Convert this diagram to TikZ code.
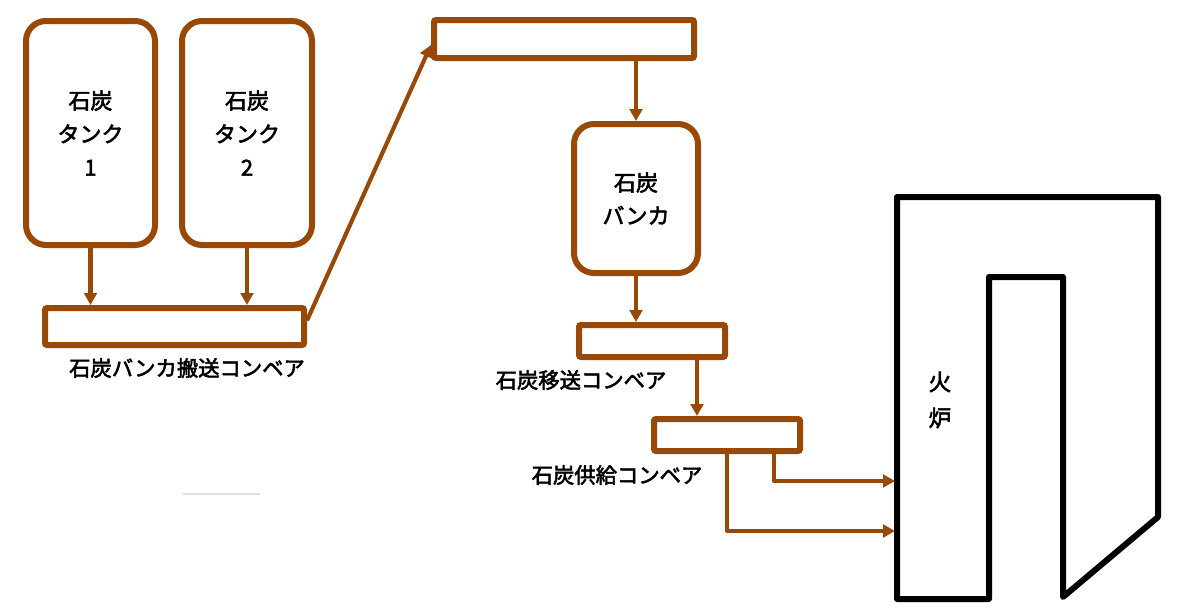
\documentclass[tikz,border=0pt]{standalone}
\usepackage{fontspec}
\setmainfont[FakeBold=2.5]{Noto Sans CJK JP}
\usetikzlibrary{arrows.meta,calc}
\definecolor{coal}{RGB}{152,72,7}
\tikzset{
  tank/.style={draw=coal, line width=4.5pt, rounded corners=15pt, fill=white, align=center, font=\fontsize{16.5}{25}\selectfont},
  conv/.style={draw=coal, line width=4.5pt, rounded corners=1.5pt, fill=white},
  flow/.style={draw=coal, line width=3.1pt, -{Triangle[length=9pt,width=9.5pt]}},
  lbl/.style={font=\fontsize{16}{20}\selectfont},
  furnace/.style={draw=black, line width=4.5pt, line join=round}
}
\begin{document}
\begin{tikzpicture}[x=0.75pt,y=-0.75pt]
\useasboundingbox (0,0) rectangle (1200,611);
% tanks
\node[tank, minimum width=96.75pt, minimum height=168pt] (t1) at (90.5,133) {石炭\\タンク\\1};
\node[tank, minimum width=97.5pt, minimum height=168pt] (t2) at (247,133) {石炭\\タンク\\2};
% conveyors
\node[conv, minimum width=194.25pt, minimum height=27.75pt] (c1) at (174.5,326.5) {};
\node[lbl] (l1) at (187,368) {石炭バンカ搬送コンベア};
\node[conv, minimum width=195pt, minimum height=28.5pt] (c0) at (564,39) {};
\node[tank, minimum width=93pt, minimum height=111.75pt, font=\fontsize{16.5}{24.75}\selectfont] (b) at (636,198.5) {石炭\\バンカ};
\node[conv, minimum width=109.5pt, minimum height=24pt] (c2) at (652,341) {};
\node[lbl] (l2) at (581,380) {石炭移送コンベア};
\node[conv, minimum width=109.5pt, minimum height=24pt] (c3) at (727,435) {};
\node[lbl] (l3) at (617,475) {石炭供給コンベア};
% furnace
\draw[furnace] (897,197) -- (1158,197) -- (1158,517) -- (1063,597) -- (1063,277) -- (989,277) -- (989,599) -- (897,599) -- cycle;
\node[font=\fontsize{17}{27}\selectfont, align=center] (f) at (940,400) {火\\炉};
\coordinate (fin1) at (895,481);
\coordinate (fin2) at (895,531);
% faint line
\draw[black!13, line width=0.8pt] (183,494) -- (260,494);
% flows
\draw[flow] (t1.south) -- (t1.south |- c1.north);
\draw[flow] (t2.south) -- (t2.south |- c1.north);
\draw[flow] ($(c1.east)+(0,-6)$) -- ($(c0.west)+(0,6)$);
\draw[flow] (b.north |- c0.south) -- (b.north);
\draw[flow] (b.south) -- (b.south |- c2.north);
\coordinate (c2o) at (697,357);
\draw[flow] (c2o |- c2.south) -- (c2o |- c3.north);
\coordinate (c3a) at (774,451);
\coordinate (c3b) at (727,451);
\draw[flow, line join=round] (c3a |- c3.south) -- (c3a |- fin1) -- (fin1);
\draw[flow, line join=round] (c3b |- c3.south) -- (c3b |- fin2) -- (fin2);
\end{tikzpicture}
\end{document}
